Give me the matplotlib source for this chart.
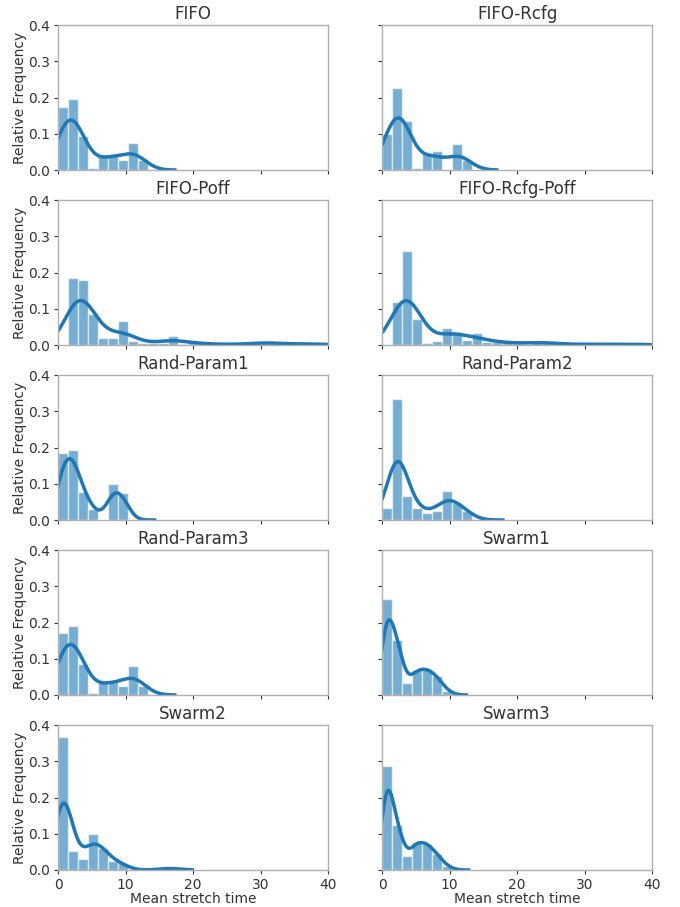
import numpy as np
import matplotlib.pyplot as plt

# histogram bins: 27 equal bins over 0..40
n_bins = 27
x_max = 40
bin_width = x_max / n_bins

titles = ["FIFO", "FIFO-Rcfg", "FIFO-Poff", "FIFO-Rcfg-Poff",
          "Rand-Param1", "Rand-Param2", "Rand-Param3",
          "Swarm1", "Swarm2", "Swarm3"]

# density per bin, starting from the first bin at 0
fifo = [0.175, 0.195, 0.094, 0.005, 0.041, 0.041, 0.029, 0.074, 0.028]
fifo_rcfg = [0.100, 0.227, 0.134, 0.005, 0.046, 0.052, 0.0, 0.073, 0.027]
fifo_poff = [0.0, 0.186, 0.179, 0.086, 0.020, 0.020, 0.066, 0.012, 0.006,
             0.006, 0.006, 0.026, 0.003, 0.009, 0.003, 0.002, 0.002, 0.002,
             0.002, 0.003, 0.009, 0.006, 0.003, 0.003, 0.003, 0.003, 0.003]
fifo_rcfg_poff = [0.0, 0.119, 0.260, 0.072, 0.006, 0.012, 0.047, 0.037,
                  0.013, 0.033, 0.007, 0.009, 0.007, 0.005, 0.003, 0.009,
                  0.009, 0.002, 0.002, 0.002, 0.002, 0.002, 0.002, 0.002,
                  0.002, 0.002, 0.002]
rand_param1 = [0.186, 0.193, 0.078, 0.031, 0.0, 0.100, 0.074]
rand_param2 = [0.032, 0.333, 0.065, 0.032, 0.018, 0.026, 0.079, 0.047, 0.026]
rand_param3 = [0.172, 0.191, 0.085, 0.005, 0.036, 0.036, 0.025, 0.079, 0.025]
swarm1 = [0.265, 0.153, 0.032, 0.070, 0.072, 0.052, 0.012]
swarm2 = [0.366, 0.052, 0.031, 0.099, 0.060, 0.026, 0.018, 0.0, 0.0, 0.0,
          0.004, 0.006]
swarm3 = [0.287, 0.124, 0.039, 0.078, 0.073, 0.044, 0.011]

densities = [fifo, fifo_rcfg, fifo_poff, fifo_rcfg_poff, rand_param1,
             rand_param2, rand_param3, swarm1, swarm2, swarm3]

# kernel bandwidth and where each density curve stops
kde_bw = [1.6, 1.6, 1.9, 2.0, 1.15, 1.5, 1.6, 0.95, 1.3, 0.9]
kde_end = [17.3, 17.0, 42, 42, 14.3, 17.9, 17.3, 12.5, 19.9, 12.8]

bar_color = "#1f77b4"
text_color = "#333333"


def smooth_density(heights, bw, end):
    h = np.asarray(heights, dtype=float)
    centers = (np.arange(len(h)) + 0.5) * bin_width
    w = h / h.sum()
    xs = np.linspace(-4, end, 400)
    z = (xs[:, None] - centers[None, :]) / bw
    ys = (w[None, :] * np.exp(-0.5 * z ** 2)).sum(axis=1) / (bw * np.sqrt(2 * np.pi))
    return xs, ys


fig, axes = plt.subplots(5, 2, figsize=(6.8, 9.07), dpi=100, sharex=True, sharey=True)
fig.subplots_adjust(left=0.0853, right=0.959, top=0.9724, bottom=0.0408,
                    wspace=0.2, hspace=0.207)

for ax, title, dens, bw, end in zip(axes.flat, titles, densities, kde_bw, kde_end):
    edges = np.arange(len(dens)) * bin_width
    ax.bar(edges, dens, width=bin_width, align="edge", color=bar_color,
           alpha=0.6, edgecolor="white", linewidth=1.0)
    xs, ys = smooth_density(dens, bw, end)
    ax.plot(xs, ys, color=bar_color, linewidth=2.5)
    ax.set_title(title, fontsize=12, color=text_color, pad=4)
    ax.set_xlim(0, x_max)
    ax.set_ylim(0, 0.4)
    ax.set_xticks([0, 10, 20, 30, 40])
    ax.set_yticks([0.0, 0.1, 0.2, 0.3, 0.4])
    ax.yaxis.set_major_formatter(plt.FormatStrFormatter("%.1f"))
    ax.tick_params(labelsize=10, labelcolor=text_color, color=text_color,
                   length=3, width=0.8, pad=2.5)
    for s in ax.spines.values():
        s.set_color("#b0b0b0")
        s.set_linewidth(1.0)

for ax in axes[:, 0]:
    ax.set_ylabel("Relative Frequency", fontsize=10, color=text_color, labelpad=1)
for ax in axes[-1, :]:
    ax.set_xlabel("Mean stretch time", fontsize=10, color=text_color, labelpad=0)
    ax.tick_params(labelbottom=True)

fig.savefig("out.png", dpi=100)
